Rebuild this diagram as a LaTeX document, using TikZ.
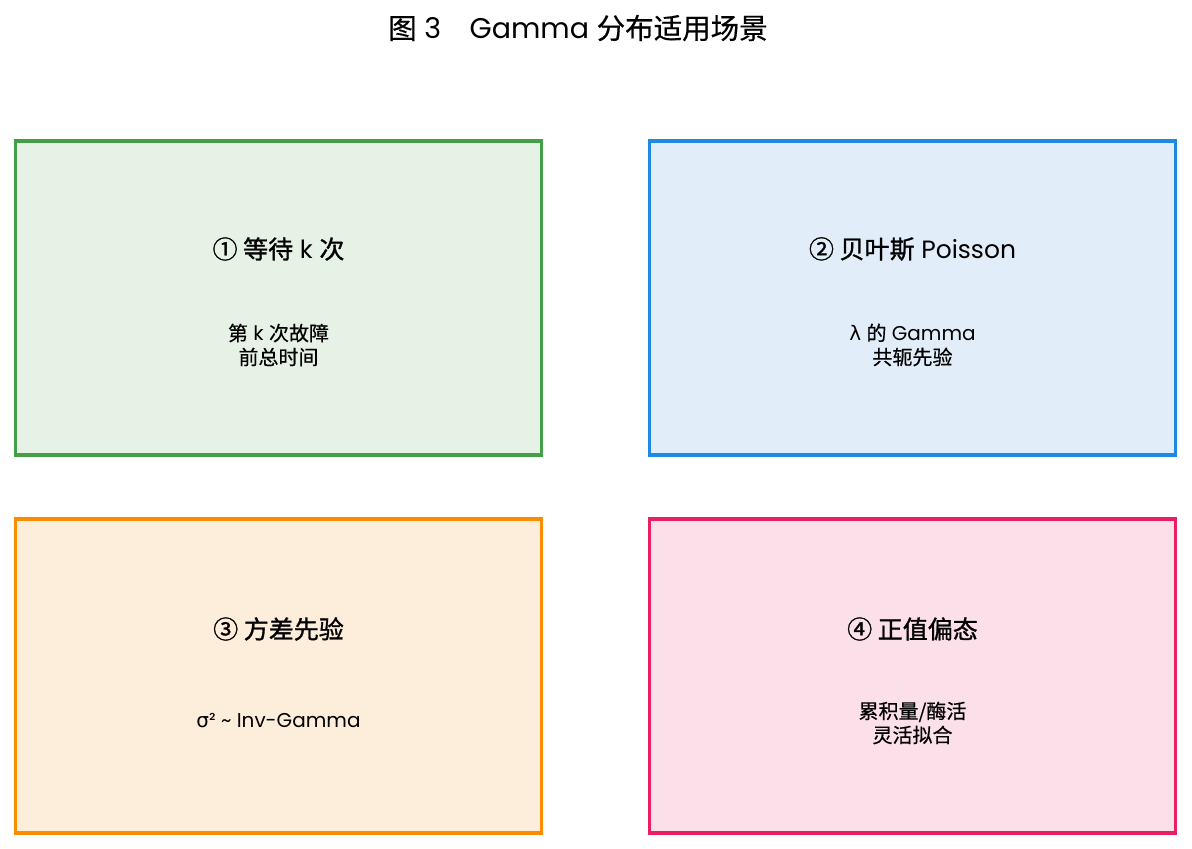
\documentclass[tikz,border=0pt]{standalone}
\usepackage{fontspec}
\setmainfont{Poppins}
\newfontfamily\cjk[FakeBold=0.5]{Noto Sans CJK SC}
\newfontfamily\cjkhead[FakeBold=1.2]{Noto Sans CJK SC}
\newfontfamily\grk{DejaVu Sans}
\usetikzlibrary{positioning}

\definecolor{grnline}{HTML}{43A047}
\definecolor{grnfill}{HTML}{E5F2E5}
\definecolor{bluline}{HTML}{1E88E5}
\definecolor{blufill}{HTML}{E1EEFA}
\definecolor{orgline}{HTML}{FB8C00}
\definecolor{orgfill}{HTML}{FDEEDC}
\definecolor{pnkline}{HTML}{E91E63}
\definecolor{pnkfill}{HTML}{FCE0E9}

\tikzset{
  card/.style={draw, line width=3.2pt, minimum width=526pt, minimum height=314pt, inner sep=0pt},
  head/.style={font=\fontsize{25}{30}\selectfont},
  body/.style={font=\fontsize{20}{24}\selectfont, align=center}
}

\begin{document}
\begin{tikzpicture}[x=1pt,y=-1pt]
		%%%%% START %%%%%
		\useasboundingbox (0, 0) rectangle (1192, 849);
		
		\node[font=\fontsize{28.5}{32}\selectfont] (title) at (578, 28) {{\cjk 图} 3\quad Gamma {\cjk 分布适用场景}};
		
		\node[card, draw=grnline, fill=grnfill] (wait) at (278.5, 298) {};
		\node[card, draw=bluline, fill=blufill] (bayes) at (912.5, 298) {};
		\node[card, draw=orgline, fill=orgfill] (var) at (278.5, 676) {};
		\node[card, draw=pnkline, fill=pnkfill] (skew) at (912.5, 676) {};
		
		\node[head] (waithead) at (278.5, 249) {{\cjkhead ① 等待} k {\cjkhead 次}};
		\node[body] (waitbody) at (278.5, 345) {{\cjk 第} k {\cjk 次故障}\\{\cjk 前总时间}};
		
		\node[head] (bayeshead) at (912.5, 249) {{\cjkhead ② 贝叶斯} Poisson};
		\node[body] (bayesbody) at (912.5, 345) {{\grk λ} {\cjk 的} Gamma\\{\cjk 共轭先验}};
		
		\node[head] (varhead) at (278.5, 629) {{\cjkhead ③ 方差先验}};
		\node[body] (varbody) at (278.5, 721) {{\grk σ}² \textasciitilde{} Inv-Gamma};
		
		\node[head] (skewhead) at (912.5, 629) {{\cjkhead ④ 正值偏态}};
		\node[body] (skewbody) at (912.5, 723) {{\cjk 累积量/酶活}\\{\cjk 灵活拟合}};
		
		%%%%% END %%%%%
\end{tikzpicture}
\end{document}
